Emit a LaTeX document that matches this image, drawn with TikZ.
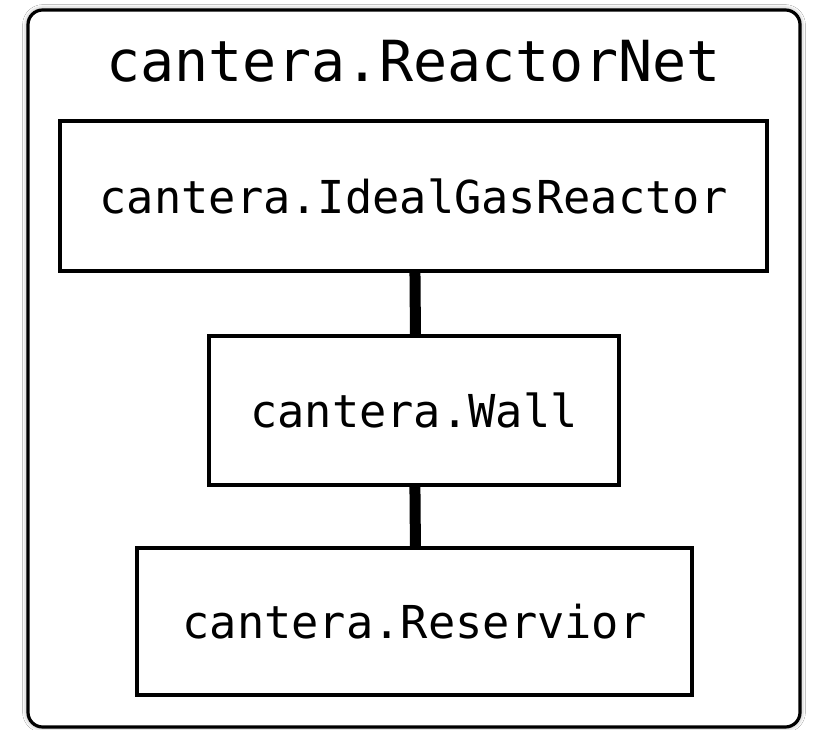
\documentclass[tikz,border=0pt]{standalone}
\usepackage{fontspec}
\setmonofont{DejaVu Sans Mono}
\usetikzlibrary{shadows.blur}
\tikzset{
  px/.style={x=0.75pt,y=-0.75pt},
  classbox/.style={draw=black, line width=2.6pt, fill=white, inner sep=0pt, font=\ttfamily\fontsize{34}{40}\selectfont},
  link/.style={draw=black, line width=8.25pt},
  frame/.style={draw=black, line width=2.4pt, fill=white, rounded corners=11pt,
    blur shadow={shadow xshift=0pt, shadow yshift=0pt, shadow blur radius=4pt, shadow opacity=45}}
}
\begin{document}
\begin{tikzpicture}[px]
\useasboundingbox (0,0) rectangle (821,730);
\fill[white] (0,0) rectangle (821,730);
\node[frame, minimum width=579pt, minimum height=537.75pt, inner sep=0pt] (net) at (414,368.5) {};
\node[font=\ttfamily\fontsize{42.5}{48}\selectfont, inner sep=0pt, anchor=base] (title) at (413.5,82) {cantera.ReactorNet};
\node[classbox, minimum width=530.25pt, minimum height=112.5pt] (reactor) at (413.5,196) {cantera.IdealGasReactor};
\node[classbox, minimum width=307.5pt, minimum height=111.75pt] (wall) at (414,410.5) {cantera.Wall};
\node[classbox, minimum width=416.25pt, minimum height=110.25pt] (res) at (414.5,621.5) {cantera.Reservior};
\draw[link] ([xshift=1.1pt]reactor.south) -- ([xshift=1.1pt]wall.north);
\draw[link] ([xshift=0.7pt]wall.south) -- ([xshift=0.7pt]res.north);
\end{tikzpicture}
\end{document}
